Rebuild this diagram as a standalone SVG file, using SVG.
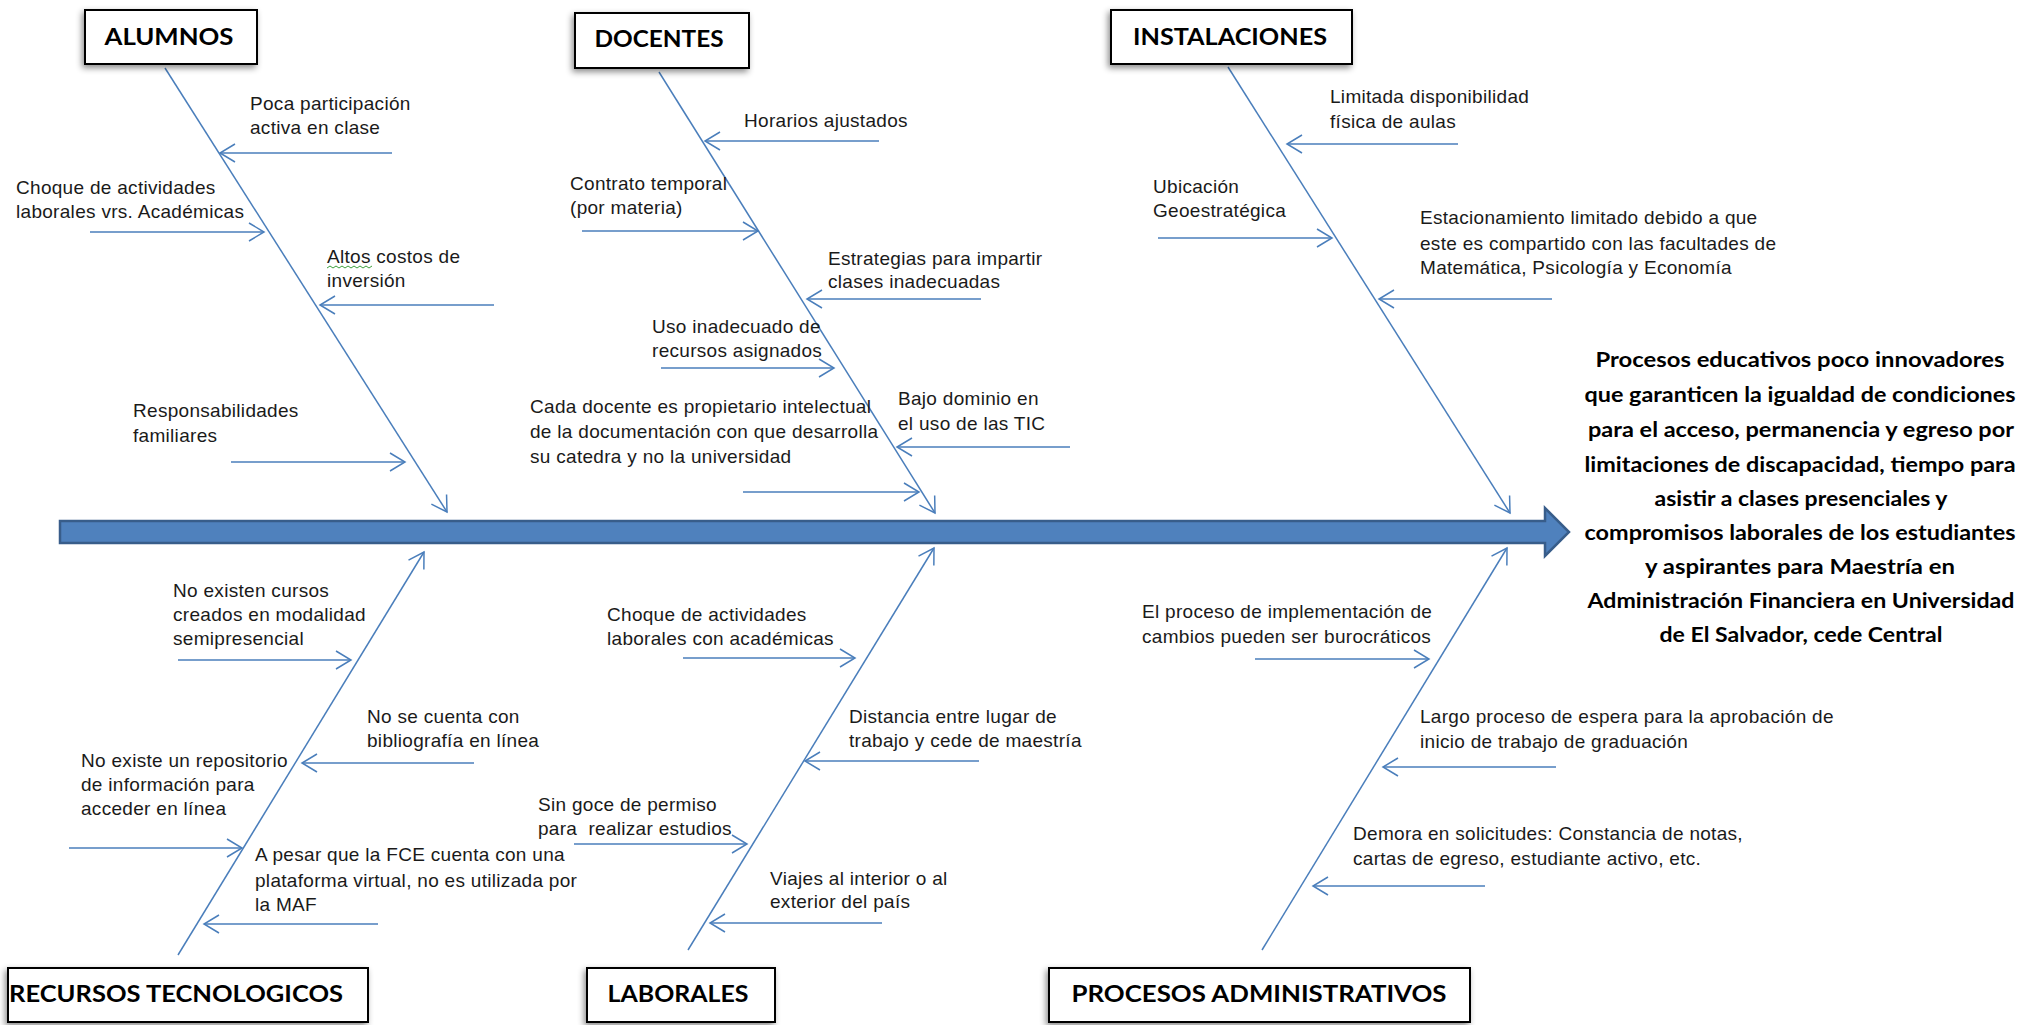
<svg xmlns="http://www.w3.org/2000/svg" width="2032" height="1025" viewBox="0 0 2032 1025">
<defs>
<style>
.box{fill:#fff;stroke:#000;stroke-width:2;}
.title{font-family:Lato,"Liberation Sans",sans-serif;font-weight:bold;font-size:23px;fill:#000;text-anchor:middle;}
.cause{font-family:"Liberation Sans",Arial,sans-serif;font-size:19px;letter-spacing:0.3px;fill:#1a1a1a;}
.effect{font-family:Lato,"Liberation Sans",sans-serif;font-weight:bold;font-size:20px;fill:#000;text-anchor:middle;}
.spine{stroke:#4a7ebb;stroke-width:1.5;fill:none;marker-end:url(#ah);}
.branch{stroke:#4a7ebb;stroke-width:1.5;fill:none;marker-end:url(#ah);}
</style>
<marker id="ah" markerUnits="userSpaceOnUse" markerWidth="22" markerHeight="24" viewBox="-18 -12 20 24" refX="0" refY="0" orient="auto">
<path d="M-15,-9 L0,0 L-15,9" fill="none" stroke="#4a7ebb" stroke-width="1.5"/>
</marker>
<filter id="sh" x="-20%" y="-30%" width="140%" height="170%">
<feDropShadow dx="-2" dy="3" stdDeviation="3" flood-color="#000" flood-opacity="0.45"/>
</filter>
</defs>
<rect width="2032" height="1025" fill="#fff"/>

<g id="connectors">
<path id="main-arrow" d="M60,521 H1545 V508 L1569,532 L1545,556 V543 H60 Z" fill="#4f81bd" stroke="#385d8a" stroke-width="2.5" stroke-linejoin="miter"/>
<line class="spine" x1="165" y1="68" x2="447" y2="512"/>
<line class="spine" x1="659" y1="72" x2="935" y2="513"/>
<line class="spine" x1="1228" y1="67" x2="1510" y2="513"/>
<line class="spine" x1="178" y1="955" x2="424" y2="552"/>
<line class="spine" x1="688" y1="950" x2="934" y2="548"/>
<line class="spine" x1="1262" y1="950" x2="1507" y2="548"/>
<line class="branch" x1="392" y1="153" x2="220" y2="153"/>
<line class="branch" x1="90" y1="232" x2="264" y2="232"/>
<line class="branch" x1="494" y1="305" x2="320" y2="305"/>
<line class="branch" x1="231" y1="462" x2="405" y2="462"/>
<line class="branch" x1="879" y1="141" x2="705" y2="141"/>
<line class="branch" x1="582" y1="231" x2="758" y2="231"/>
<line class="branch" x1="981" y1="299" x2="807" y2="299"/>
<line class="branch" x1="661" y1="368" x2="834" y2="368"/>
<line class="branch" x1="1070" y1="447" x2="897" y2="447"/>
<line class="branch" x1="743" y1="492" x2="919" y2="492"/>
<line class="branch" x1="1458" y1="144" x2="1287" y2="144"/>
<line class="branch" x1="1158" y1="238" x2="1332" y2="238"/>
<line class="branch" x1="1552" y1="299" x2="1379" y2="299"/>
<line class="branch" x1="178" y1="660" x2="351" y2="660"/>
<line class="branch" x1="474" y1="763" x2="302" y2="763"/>
<line class="branch" x1="69" y1="848" x2="242" y2="848"/>
<line class="branch" x1="378" y1="924" x2="204" y2="924"/>
<line class="branch" x1="683" y1="658" x2="855" y2="658"/>
<line class="branch" x1="979" y1="761" x2="805" y2="761"/>
<line class="branch" x1="574" y1="844" x2="747" y2="844"/>
<line class="branch" x1="882" y1="923" x2="710" y2="923"/>
<line class="branch" x1="1255" y1="659" x2="1429" y2="659"/>
<line class="branch" x1="1556" y1="767" x2="1383" y2="767"/>
<line class="branch" x1="1485" y1="886" x2="1313" y2="886"/>
</g>

<g id="cat-alumnos">
<rect class="box" x="85" y="10" width="172" height="54" filter="url(#sh)"/>
<text class="title" x="169" y="45" textLength="129" lengthAdjust="spacingAndGlyphs">ALUMNOS</text>
</g>
<g id="cat-docentes">
<rect class="box" x="575" y="13" width="174" height="55" filter="url(#sh)"/>
<text class="title" x="659" y="47" textLength="129" lengthAdjust="spacingAndGlyphs">DOCENTES</text>
</g>
<g id="cat-instalaciones">
<rect class="box" x="1111" y="10" width="241" height="54" filter="url(#sh)"/>
<text class="title" x="1230" y="45" textLength="194" lengthAdjust="spacingAndGlyphs">INSTALACIONES</text>
</g>
<g id="cat-recursos">
<rect class="box" x="8" y="968" width="360" height="54" filter="url(#sh)"/>
<text class="title" x="176" y="1002" textLength="334" lengthAdjust="spacingAndGlyphs">RECURSOS TECNOLOGICOS</text>
</g>
<g id="cat-laborales">
<rect class="box" x="587" y="968" width="188" height="54" filter="url(#sh)"/>
<text class="title" x="678" y="1002" textLength="141" lengthAdjust="spacingAndGlyphs">LABORALES</text>
</g>
<g id="cat-procesos">
<rect class="box" x="1049" y="968" width="421" height="54" filter="url(#sh)"/>
<text class="title" x="1259" y="1002" textLength="375" lengthAdjust="spacingAndGlyphs">PROCESOS ADMINISTRATIVOS</text>
</g>

<g id="effect">
<text class="effect" x="1800" y="367" textLength="409" lengthAdjust="spacingAndGlyphs">Procesos educativos poco  innovadores</text>
<text class="effect" x="1800" y="402" textLength="431" lengthAdjust="spacingAndGlyphs">que garanticen la igualdad de condiciones</text>
<text class="effect" x="1801" y="437" textLength="426" lengthAdjust="spacingAndGlyphs">para el acceso, permanencia y egreso por</text>
<text class="effect" x="1800" y="472" textLength="431" lengthAdjust="spacingAndGlyphs">limitaciones  de discapacidad, tiempo para</text>
<text class="effect" x="1801" y="506" textLength="293" lengthAdjust="spacingAndGlyphs">asistir a clases presenciales y</text>
<text class="effect" x="1800" y="540" textLength="431" lengthAdjust="spacingAndGlyphs">compromisos laborales de los estudiantes</text>
<text class="effect" x="1800" y="574" textLength="310" lengthAdjust="spacingAndGlyphs">y  aspirantes para Maestría en</text>
<text class="effect" x="1801" y="608" textLength="427" lengthAdjust="spacingAndGlyphs">Administración Financiera en Universidad</text>
<text class="effect" x="1801" y="642" textLength="283" lengthAdjust="spacingAndGlyphs">de El Salvador, cede Central</text>
</g>

<g id="c-alumnos-1"><text class="cause" x="250" y="110">Poca participación</text><text class="cause" x="250" y="134">activa en clase</text></g>
<g id="c-alumnos-2"><text class="cause" x="16" y="194">Choque de actividades</text><text class="cause" x="16" y="218">laborales vrs. Académicas</text></g>
<g id="c-alumnos-3"><text class="cause" x="327" y="263">Altos costos de</text><text class="cause" x="327" y="287">inversión</text>
<path d="M327,268 l3,-2 l3,2 l3,-2 l3,2 l3,-2 l3,2 l3,-2 l3,2 l3,-2 l3,2 l3,-2 l3,2 l3,-2 l3,2 l3,-2" fill="none" stroke="#3ca03c" stroke-width="1"/></g>
<g id="c-alumnos-4"><text class="cause" x="133" y="417">Responsabilidades</text><text class="cause" x="133" y="442">familiares</text></g>

<g id="c-docentes-1"><text class="cause" x="744" y="127">Horarios ajustados</text></g>
<g id="c-docentes-2"><text class="cause" x="570" y="190">Contrato temporal</text><text class="cause" x="570" y="214">(por materia)</text></g>
<g id="c-docentes-3"><text class="cause" x="828" y="265">Estrategias para impartir</text><text class="cause" x="828" y="288">clases inadecuadas</text></g>
<g id="c-docentes-4"><text class="cause" x="652" y="333">Uso inadecuado de</text><text class="cause" x="652" y="357">recursos asignados</text></g>
<g id="c-docentes-5"><text class="cause" x="898" y="405">Bajo dominio en</text><text class="cause" x="898" y="430">el uso de las TIC</text></g>
<g id="c-docentes-6"><text class="cause" x="530" y="413">Cada docente es propietario intelectual</text><text class="cause" x="530" y="438">de la documentación con que desarrolla</text><text class="cause" x="530" y="463">su catedra y no la universidad</text></g>

<g id="c-inst-1"><text class="cause" x="1330" y="103">Limitada disponibilidad</text><text class="cause" x="1330" y="128">física de aulas</text></g>
<g id="c-inst-2"><text class="cause" x="1153" y="193">Ubicación</text><text class="cause" x="1153" y="217">Geoestratégica</text></g>
<g id="c-inst-3"><text class="cause" x="1420" y="224">Estacionamiento limitado debido a que</text><text class="cause" x="1420" y="250">este es compartido con las facultades de</text><text class="cause" x="1420" y="274">Matemática, Psicología y Economía</text></g>

<g id="c-rec-1"><text class="cause" x="173" y="597">No existen cursos</text><text class="cause" x="173" y="621">creados en modalidad</text><text class="cause" x="173" y="645">semipresencial</text></g>
<g id="c-rec-2"><text class="cause" x="367" y="723">No se cuenta con</text><text class="cause" x="367" y="747">bibliografía en línea</text></g>
<g id="c-rec-3"><text class="cause" x="81" y="767">No existe un repositorio</text><text class="cause" x="81" y="791">de información para</text><text class="cause" x="81" y="815">acceder en línea</text></g>
<g id="c-rec-4"><text class="cause" x="255" y="861">A pesar que la FCE cuenta con una</text><text class="cause" x="255" y="887">plataforma virtual, no es utilizada por</text><text class="cause" x="255" y="911">la MAF</text></g>

<g id="c-lab-1"><text class="cause" x="607" y="621">Choque de actividades</text><text class="cause" x="607" y="645">laborales con académicas</text></g>
<g id="c-lab-2"><text class="cause" x="849" y="723">Distancia entre lugar de</text><text class="cause" x="849" y="747">trabajo y cede de maestría</text></g>
<g id="c-lab-3"><text class="cause" x="538" y="811">Sin goce de permiso</text><text class="cause" x="538" y="835" xml:space="preserve">para  realizar estudios</text></g>
<g id="c-lab-4"><text class="cause" x="770" y="885">Viajes al interior o al</text><text class="cause" x="770" y="908">exterior del país</text></g>

<g id="c-proc-1"><text class="cause" x="1142" y="618">El proceso de implementación de</text><text class="cause" x="1142" y="643">cambios pueden ser burocráticos</text></g>
<g id="c-proc-2"><text class="cause" x="1420" y="723">Largo proceso de espera para la aprobación de</text><text class="cause" x="1420" y="748">inicio de trabajo de graduación</text></g>
<g id="c-proc-3"><text class="cause" x="1353" y="840">Demora en solicitudes: Constancia de notas,</text><text class="cause" x="1353" y="865">cartas de egreso, estudiante activo, etc.</text></g>
</svg>
